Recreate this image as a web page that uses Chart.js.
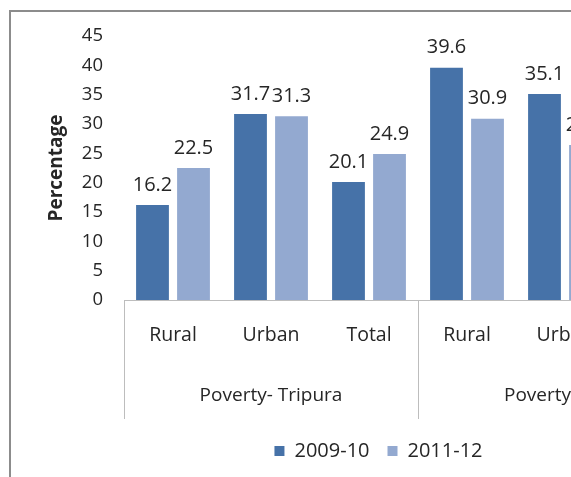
<!DOCTYPE html>
<html>
<head>
<meta charset="utf-8">
<script src="https://cdn.jsdelivr.net/npm/chart.js@4.4.0/dist/chart.umd.min.js"></script>
<style>
  html, body { margin: 0; padding: 0; background: #fff; overflow: hidden; }
  #wrap { position: absolute; left: 0; top: 0; width: 760px; height: 600px; }
</style>
</head>
<body>
<div id="wrap"><canvas id="myChart" width="760" height="600"></canvas></div>
<script>
const categories = ["Rural", "Urban", "Total", "Rural", "Urban", "Total"];
const groups = ["Poverty- Tripura", "Poverty- India"];
const series2009 = [16.2, 31.7, 20.1, 39.6, 35.1, null];
const series2011 = [22.5, 31.3, 24.9, 30.9, 26.4, null];
const yTicks = [0, 5, 10, 15, 20, 25, 30, 35, 40, 45];

const textColor = "#262626";
const fontFamily = "'Open Sans', sans-serif";

// outer frame, only left/top edges are visible in the crop
const framePlugin = {
  id: "frame",
  beforeDraw(chart) {
    const ctx = chart.ctx;
    ctx.save();
    ctx.strokeStyle = "#8c8c8c";
    ctx.lineWidth = 2;
    ctx.strokeRect(10, 11, 736, 580);
    ctx.restore();
  },
};

// value labels above bars + group row under the category axis
const labelsPlugin = {
  id: "barLabels",
  afterDatasetsDraw(chart) {
    const ctx = chart.ctx;
    ctx.save();
    ctx.font = "20px " + fontFamily;
    ctx.fillStyle = textColor;
    ctx.textAlign = "center";
    ctx.textBaseline = "bottom";
    chart.data.datasets.forEach((ds, i) => {
      chart.getDatasetMeta(i).data.forEach((bar, j) => {
        if (ds.data[j] == null) return;
        ctx.fillText(ds.data[j].toFixed(1), bar.x, bar.y - 10);
      });
    });
    ctx.restore();
  },
  afterDraw(chart) {
    const x = chart.scales.x;
    const ctx = chart.ctx;
    const step = x.width / categories.length;
    const perGroup = categories.length / groups.length;
    const top = x.top;
    const bottom = x.top + 119;
    ctx.save();
    ctx.strokeStyle = "#bdbdbd";
    ctx.lineWidth = 1;
    ctx.beginPath();
    ctx.moveTo(x.left, top + 0.5);
    ctx.lineTo(x.right, top + 0.5);
    for (let g = 0; g <= groups.length; g++) {
      const px = Math.round(x.left + g * perGroup * step) + 0.5;
      ctx.moveTo(px, top);
      ctx.lineTo(px, bottom);
    }
    ctx.stroke();
    ctx.font = "19px " + fontFamily;
    ctx.fillStyle = textColor;
    ctx.textAlign = "center";
    ctx.textBaseline = "middle";
    groups.forEach((name, g) => {
      const cx = x.left + (g + 0.5) * perGroup * step;
      ctx.fillText(name, cx, top + 96);
    });
    ctx.restore();
  },
};

new Chart(document.getElementById("myChart"), {
  type: "bar",
  data: {
    labels: categories,
    datasets: [
      {
        label: "2009-10",
        data: series2009,
        backgroundColor: "#4672a8",
        categoryPercentage: 0.837,
        barPercentage: 0.8,
      },
      {
        label: "2011-12",
        data: series2011,
        backgroundColor: "#93a9d0",
        categoryPercentage: 0.837,
        barPercentage: 0.8,
      },
    ],
  },
  options: {
    responsive: false,
    animation: false,
    layout: { padding: { top: 36, left: 45, right: 48, bottom: 129 } },
    plugins: {
      tooltip: { enabled: false },
      legend: {
        position: "bottom",
        labels: {
          boxWidth: 10,
          boxHeight: 10,
          padding: 18,
          color: textColor,
          font: { family: fontFamily, size: 20 },
        },
      },
    },
    scales: {
      x: {
        grid: { display: false },
        border: { display: false },
        ticks: {
          color: textColor,
          padding: 16,
          font: { family: fontFamily, size: 19.5 },
        },
        afterFit(scale) { scale.height = 123; },
      },
      y: {
        min: 0,
        max: 45,
        afterBuildTicks(scale) { scale.ticks = yTicks.map((v) => ({ value: v })); },
        grid: { display: false, drawTicks: false },
        border: { display: false },
        ticks: {
          color: textColor,
          padding: 21,
          font: { family: fontFamily, size: 18.5 },
        },
        title: {
          display: true,
          text: "Percentage",
          color: textColor,
          padding: 0,
          font: { family: fontFamily, size: 19, weight: "bold" },
        },
        afterFit(scale) { scale.width = 79; },
      },
    },
  },
  plugins: [framePlugin, labelsPlugin],
});
</script>
</body>
</html>
